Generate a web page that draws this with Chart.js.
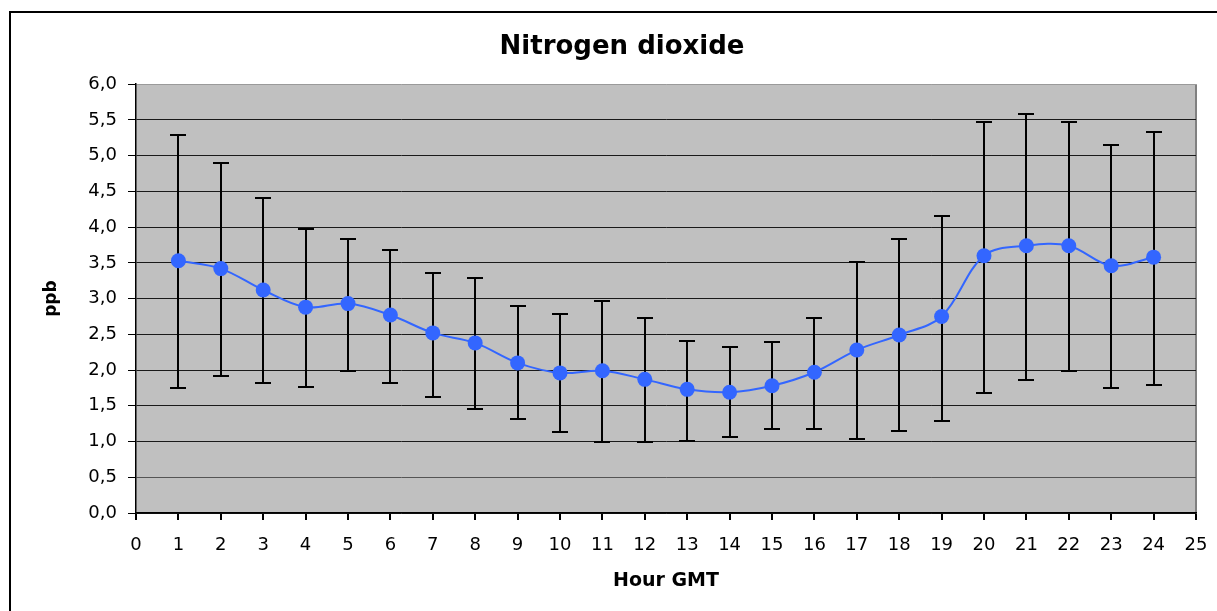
<!DOCTYPE html>
<html>
<head>
<meta charset="utf-8">
<script src="https://cdn.jsdelivr.net/npm/chart.js@4/dist/chart.umd.min.js"></script>
<style>
  html, body { margin: 0; padding: 0; background: #ffffff; }
  canvas { display: block; }
</style>
</head>
<body>
<canvas id="c" width="1217" height="611"></canvas>
<script>
// ---- Data ----
const titleText = 'Nitrogen dioxide';
const xTitle = 'Hour GMT';
const yTitle = 'ppb';
const hours = [1, 2, 3, 4, 5, 6, 7, 8, 9, 10, 11, 12, 13, 14, 15, 16, 17, 18, 19, 20, 21, 22, 23, 24];
const means = [3.53, 3.42, 3.12, 2.88, 2.93, 2.77, 2.52, 2.38, 2.10, 1.96, 1.99, 1.87, 1.73, 1.69, 1.78, 1.97, 2.28, 2.49, 2.75, 3.60, 3.74, 3.74, 3.46, 3.58];
const upper = [5.29, 4.90, 4.41, 3.98, 3.83, 3.68, 3.36, 3.29, 2.90, 2.78, 2.97, 2.73, 2.41, 2.32, 2.39, 2.73, 3.51, 3.84, 4.16, 5.47, 5.59, 5.47, 5.15, 5.33];
const lower = [1.75, 1.91, 1.82, 1.77, 1.98, 1.82, 1.63, 1.45, 1.31, 1.13, 0.99, 0.99, 1.01, 1.06, 1.17, 1.17, 1.03, 1.15, 1.29, 1.68, 1.86, 1.98, 1.75, 1.79];
const xMin = 0, xMax = 25, xStep = 1;
const yMin = 0, yMax = 6, yStep = 0.5;

const FONT = "'DejaVu Sans', sans-serif";

const points = hours.map((h, i) => ({ x: h, y: means[i] }));

const framePlugin = {
  id: 'frame',
  beforeDraw(chart) {
    const ctx = chart.ctx;
    const a = chart.chartArea;
    ctx.save();
    ctx.fillStyle = '#ffffff';
    ctx.fillRect(0, 0, chart.width, chart.height);
    ctx.fillStyle = '#c0c0c0';
    ctx.fillRect(a.left, a.top, a.right - a.left, a.bottom - a.top);
    ctx.strokeStyle = '#000000';
    ctx.lineWidth = 2;
    ctx.strokeRect(10, 12, 1400, 900);
    ctx.restore();
  }
};

const errorBarPlugin = {
  id: 'errorBars',
  beforeDatasetsDraw(chart) {
    const ctx = chart.ctx;
    const xs = chart.scales.x, ys = chart.scales.y;
    ctx.save();
    ctx.strokeStyle = '#000000';
    ctx.lineWidth = 2;
    hours.forEach((h, i) => {
      const px = Math.round(xs.getPixelForValue(h));
      const pt = Math.round(ys.getPixelForValue(upper[i]));
      const pb = Math.round(ys.getPixelForValue(lower[i]));
      ctx.beginPath();
      ctx.moveTo(px, pt);
      ctx.lineTo(px, pb);
      ctx.moveTo(px - 8, pt);
      ctx.lineTo(px + 8, pt);
      ctx.moveTo(px - 8, pb);
      ctx.lineTo(px + 8, pb);
      ctx.stroke();
    });
    ctx.restore();
  }
};

new Chart(document.getElementById('c'), {
  type: 'line',
  data: {
    datasets: [{
      data: points,
      borderColor: '#3366ff',
      backgroundColor: '#3366ff',
      borderWidth: 2,
      pointRadius: 7.5,
      pointBorderWidth: 0,
      pointBackgroundColor: '#3366ff',
      tension: 0.35,
      fill: false
    }]
  },
  options: {
    responsive: false,
    animation: false,
    devicePixelRatio: 1,
    layout: { autoPadding: false, padding: { left: 48, right: 21, top: 0, bottom: 0 } },
    plugins: {
      legend: { display: false },
      tooltip: { enabled: false },
      title: {
        display: true,
        text: titleText,
        color: '#000000',
        font: { family: FONT, size: 26, weight: 'bold' },
        padding: { top: 32, bottom: 21 }
      }
    },
    scales: {
      x: {
        type: 'linear',
        min: xMin,
        max: xMax,
        afterFit(s) { s.height = 98; s.paddingRight = 0; },
        ticks: {
          stepSize: xStep,
          autoSkip: false,
          maxRotation: 0,
          color: '#000000',
          font: { family: FONT, size: 18 },
          padding: 15
        },
        grid: {
          drawOnChartArea: true,
          color: (c) => (c.tick && c.tick.value === xMax) ? '#808080' : 'rgba(0,0,0,0)',
          tickColor: '#000000',
          tickLength: 7,
          lineWidth: 2
        },
        border: { color: '#000000', width: 1.5 },
        title: {
          display: true,
          text: xTitle,
          color: '#000000',
          font: { family: FONT, size: 19, weight: 'bold' },
          padding: { top: 0, bottom: 18.6 }
        }
      },
      y: {
        min: yMin,
        max: yMax,
        afterFit(s) { s.width = 88; },
        ticks: {
          stepSize: yStep,
          color: '#000000',
          font: { family: FONT, size: 18 },
          padding: 11,
          callback: (v) => Number(v).toFixed(1).replace('.', ',')
        },
        grid: {
          color: (c) => {
            if (!c.tick) return '#1a1a1a';
            if (c.tick.value === yMax) return '#9a9a9a';
            if (c.tick.value === 0.5) return '#555555';
            return '#1a1a1a';
          },
          tickColor: '#000000',
          tickLength: 8,
          lineWidth: 1
        },
        border: { color: '#000000', width: 1.5 },
        title: {
          display: true,
          text: yTitle,
          color: '#000000',
          font: { family: FONT, size: 17, weight: 'bold' },
          padding: { top: -7, bottom: 0 }
        }
      }
    }
  },
  plugins: [framePlugin, errorBarPlugin]
});
</script>
</body>
</html>
